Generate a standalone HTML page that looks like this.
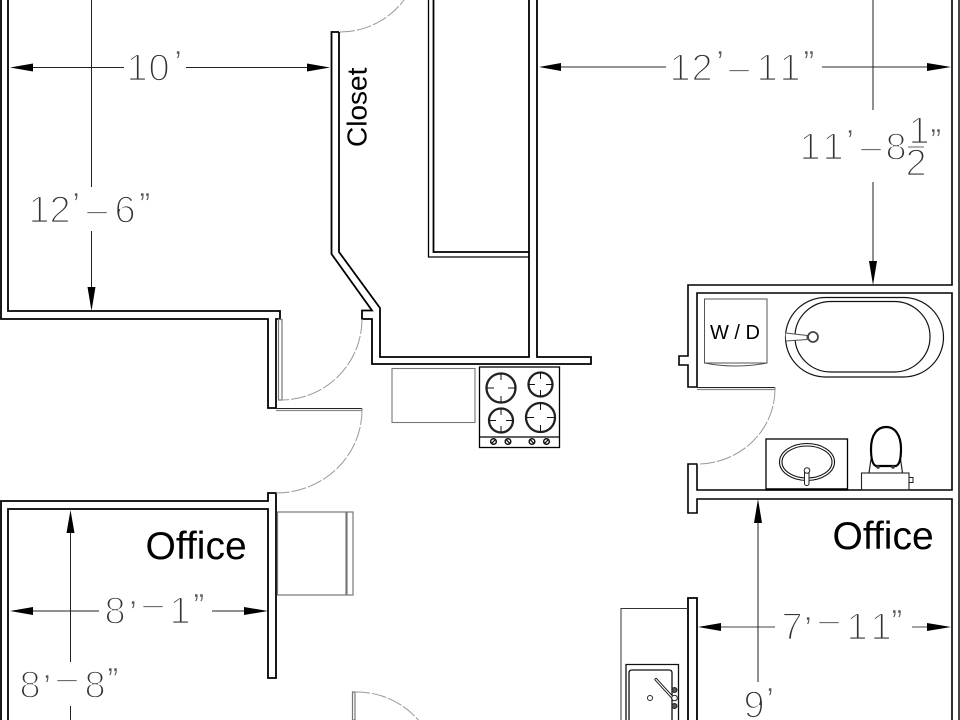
<!DOCTYPE html>
<html>
<head>
<meta charset="utf-8">
<style>
html,body{margin:0;padding:0;background:#fff;width:960px;height:720px;overflow:hidden}
svg{display:block}
.w{fill:none;stroke:#000;stroke-width:1.8;stroke-linejoin:miter}
.t{fill:none;stroke:#000;stroke-width:1.3}
.g{fill:none;stroke:#777;stroke-width:1.2}
.a{fill:none;stroke:#999;stroke-width:1;stroke-dasharray:15 2}
.l{fill:none;stroke:#222;stroke-width:1}
.h{fill:#000;stroke:none}
.d{font-family:"Liberation Sans",sans-serif;font-size:38px;fill:#333;stroke:#fff;stroke-width:1.7}
.q{font-size:32px;fill:#555;stroke:#fff;stroke-width:.5}
.n{font-family:"Liberation Sans",sans-serif;fill:#000}
</style>
</head>
<body>
<svg width="960" height="720" viewBox="0 0 960 720" xmlns="http://www.w3.org/2000/svg">
<rect width="960" height="720" fill="#fff"/>

<!-- walls -->
<path class="w" d="M1 0V319H268V408H276V319H280V311H8V0"/>
<path class="w" d="M1 720V501H268V493H276V678H268V509H8V720"/>
<path class="w" d="M339 32H331.500V254L372 310.500H362V319H372V364H591V357H537V0"/>
<path class="w" d="M339 32V252L380 308V357H529V0"/>
<path class="t" d="M428.500 0V257H529"/>
<path class="w" d="M433.500 0V252H529"/>
<path class="w" d="M952 0V285H688V356H679V365H688V387H697V293H952V490H697V464H688V513H697V499H952V720" style="stroke-width:1.6"/>
<path class="w" d="M959 0V720" style="stroke:#333"/>
<path class="w" d="M697 720V598H688V720"/>

<!-- doors -->
<path class="a" d="M340 32A80 80 0 0 0 404 0"/>
<path class="g" d="M278.500 319.500H282V400H278.500Z"/>
<path class="a" d="M362 319A81 81 0 0 1 281 400"/>
<path d="M276 408.500H362" stroke="#222" stroke-width="1.100"/>
<path d="M276 410.500H362V408.500" fill="none" stroke="#888" stroke-width="1.200"/>
<path class="a" d="M362 410A86 83 0 0 1 276 493"/>
<path class="g" d="M352.500 692H355V720H352.500Z"/>
<path class="a" d="M355 692A82 82 0 0 1 420 722"/>
<path d="M697 387.500H775" stroke="#222" stroke-width="1.100"/>
<path d="M697 389.500H775V387.500" fill="none" stroke="#888" stroke-width="1.200"/>
<path class="a" d="M775 389A78 75 0 0 1 697 464"/>

<!-- kitchen -->
<rect x="392" y="368.500" width="83" height="54" fill="none" stroke="#777" stroke-width="1.100"/>
<rect x="479.500" y="367" width="80" height="80.500" fill="none" stroke="#000" stroke-width="1.300"/>
<path class="t" d="M479.500 437H559.500"/>
<g fill="none" stroke="#222" stroke-width="2.300">
<circle cx="501" cy="388" r="14.500"/>
<circle cx="540.500" cy="384.500" r="12"/>
<circle cx="501" cy="420.500" r="12"/>
<circle cx="540.500" cy="417.500" r="14.500"/>
</g>
<g stroke="#111" stroke-width="1">
<path d="M501 373V380M501 396V403M486 388H494M508 388H516"/>
<path d="M540.500 372V379M540.500 390V397M528 384.500H535M546 384.500H553"/>
<path d="M501 408V415M501 426V433M489 420.500H496M506 420.500H513"/>
<path d="M540.500 403V410M540.500 425V432M526 417.500H534M547 417.500H555"/>
</g>
<g fill="#fff" stroke="#111" stroke-width="1.500">
<circle cx="493.500" cy="441.500" r="2.800"/>
<circle cx="508" cy="441.500" r="2.800"/>
<circle cx="532" cy="441.500" r="2.800"/>
<circle cx="546.500" cy="441.500" r="2.800"/>
</g>
<g stroke="#000" stroke-width="1.200">
<path d="M491.500 443.500L495.500 439.500M506 439.500L510 443.500M530 439.500L534 443.500M544.500 443.500L548.500 439.500"/>
</g>

<!-- chair / cabinet -->
<rect x="277.500" y="512" width="68.500" height="83" fill="none" stroke="#777" stroke-width="1.200"/>
<rect x="347" y="512" width="6" height="83" fill="none" stroke="#777" stroke-width="1.200"/>

<!-- W/D -->
<path d="M704.500 299H767V363H704.500Z" fill="none" stroke="#555" stroke-width="1"/>
<path d="M704.500 363Q735 369 767 363" fill="none" stroke="#555" stroke-width="1"/>
<text class="n" x="735" y="339" font-size="20" text-anchor="middle">W / D</text>

<!-- tub -->
<rect x="785.500" y="297.500" width="158" height="79.500" rx="40" ry="39.700" fill="none" stroke="#111" stroke-width="1.200"/>
<rect x="795" y="301.500" width="135" height="70.500" rx="36" ry="35" fill="none" stroke="#111" stroke-width="1.200"/>
<path d="M785.500 333L807 335.500V339.500L786 341" fill="#fff" stroke="#555" stroke-width="1"/>
<circle cx="813" cy="337" r="5" fill="#fff" stroke="#444" stroke-width="1.800"/>

<!-- sink -->
<rect x="766" y="439" width="81.500" height="51" fill="none" stroke="#000" stroke-width="1.300"/>
<path d="M766 489H847" stroke="#000" stroke-width="1.500"/>
<ellipse cx="807" cy="462" rx="27.500" ry="18.500" fill="none" stroke="#111" stroke-width="1.100"/>
<ellipse cx="807" cy="462" rx="25" ry="16" fill="none" stroke="#111" stroke-width="1.100"/>
<rect x="804.500" y="471" width="4.500" height="14.500" rx="2" fill="#fff" stroke="#222" stroke-width="1"/>
<circle cx="807" cy="470.500" r="2.800" fill="#fff" stroke="#222" stroke-width="1"/>

<!-- toilet -->
<rect x="861.500" y="473" width="47.500" height="17" fill="none" stroke="#222" stroke-width="1.100"/>
<rect x="909" y="477.500" width="4" height="5" fill="none" stroke="#222" stroke-width="1"/>
<path d="M869 473L871 459M902.500 473L900.500 459" stroke="#222" stroke-width="1.200" fill="none"/>
<path d="M876 466H896Q901 464 901 449C901 435 895 427 886 427C877 427 871 435 871 449Q871 464 876 466Z" fill="none" stroke="#000" stroke-width="2.200"/>
<circle cx="878" cy="467" r="1.800" fill="#333"/>
<circle cx="893" cy="467" r="1.800" fill="#333"/>

<!-- lower sink -->
<path d="M688 608.500H621V720" fill="none" stroke="#333" stroke-width="1"/>
<path d="M626 720V664.500H678.500V720" fill="none" stroke="#111" stroke-width="1.300"/>
<path d="M629 720V673Q629 670 632 670H669Q672 670 672 673V720" fill="none" stroke="#111" stroke-width="1.300"/>
<path d="M656 679.500L672 697" stroke="#111" stroke-width="3" stroke-linecap="round"/>
<path d="M656 679.500L672 697" stroke="#fff" stroke-width="1.200" stroke-linecap="round"/>
<circle cx="650" cy="698" r="2.500" fill="#fff" stroke="#222" stroke-width="1"/>
<circle cx="674.500" cy="690" r="2.500" fill="#555" stroke="#222" stroke-width="1"/>
<circle cx="674.500" cy="698" r="2.800" fill="#fff" stroke="#222" stroke-width="1"/>
<circle cx="674.500" cy="706" r="2.500" fill="#555" stroke="#222" stroke-width="1"/>

<!-- dimension lines -->
<path class="l" d="M33 67.500H124M186 67.500H307"/>
<path class="h" d="M10 67.500L33 63.500V71.500Z"/>
<path class="h" d="M330 67.500L307 63.500V71.500Z"/>
<path class="l" d="M91.500 0V187M91.500 231V288"/>
<path class="h" d="M91.500 311L87.500 287H95.500Z"/>

<path class="l" d="M560 67H666M822 67H928" style="stroke:#555;stroke-width:1.300"/>
<path class="h" d="M539 67L561 63V71Z"/>
<path class="h" d="M951 67L927 63V71Z"/>
<path class="l" d="M873 0V110M873 182V262"/>
<path class="h" d="M873 285L869 261H877Z"/>

<path class="l" d="M33 611H99M212 611H245"/>
<path class="h" d="M10 611L33 607V615Z"/>
<path class="h" d="M268 611L244 607V615Z"/>
<path class="l" d="M70.500 532V662M70.500 706V720"/>
<path class="h" d="M70.500 510L66.500 533H74.500Z"/>

<path class="l" d="M720 627H775M912 627H928" style="stroke:#444"/>
<path class="h" d="M698 627L721 623V631Z"/>
<path class="h" d="M951 627L927 623V631Z"/>
<path class="l" d="M758 522V682"/>
<path class="h" d="M758 499L754 523H762Z"/>

<!-- fraction bar -->
<path d="M908 147H924" stroke="#666" stroke-width="1"/>

<!-- dimension text -->
<g transform="translate(-0.5 0.7)">
<text class="d" x="127 149 175" y="80 80 73">10<tspan class="q">’</tspan></text>
<text class="d" x="29 50 73 87 115 140" y="222 222 215 222 222 215">12<tspan class="q">’</tspan>–6<tspan class="q">”</tspan></text>
<text class="d" x="670 692 717 729 757 780 804" y="80 80 73 80 80 80 73">12<tspan class="q">’</tspan>–11<tspan class="q">”</tspan></text>
<text class="d" x="800 823 847 861 886" y="159 159 152 159 159">11<tspan class="q">’</tspan>–8</text>
<text class="d" x="909" y="143">1</text>
<text class="d" x="906" y="175">2</text>
<text class="d q" x="931" y="151">”</text>
<text class="d" x="105 130 143 170 194" y="623 623 616 623 616">8<tspan class="q">’</tspan>–1<tspan class="q">”</tspan></text>
<text class="d" x="20 44 57 85 108" y="697 697 690 697 690">8<tspan class="q">’</tspan>–8<tspan class="q">”</tspan></text>
<text class="d" x="782 805 819 847 871 892" y="639 639 632 639 639 632">7<tspan class="q">’</tspan>–11<tspan class="q">”</tspan></text>
<text class="d" x="744 767" y="717 710">9<tspan class="q">’</tspan></text>
</g>

<!-- room labels -->
<text class="n" x="145.500" y="559" font-size="39">Office</text>
<text class="n" x="832.500" y="549" font-size="39">Office</text>
<text class="n" font-size="28" transform="translate(366.500 147) rotate(-90)">Closet</text>
</svg>
</body>
</html>
